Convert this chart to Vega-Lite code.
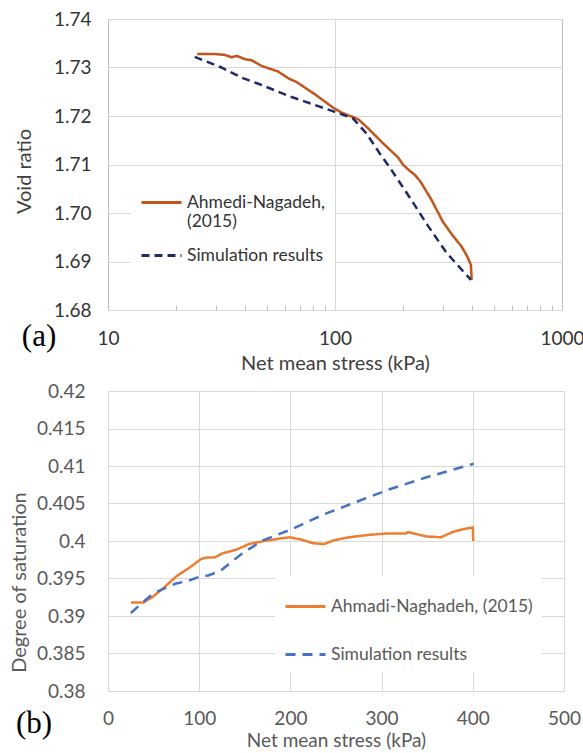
{
  "$schema": "https://vega.github.io/schema/vega-lite/v6.json",
  "background": "white",
  "padding": {"left": 8, "top": 9, "right": 0, "bottom": 0},
  "config": {
    "font": "Lato",
    "view": {"stroke": "#bfbfbf", "strokeWidth": 1},
    "axis": {"domain": false, "ticks": false, "gridColor": "#d9d9d9", "gridWidth": 1, "labelFontSize": 19, "titleFontSize": 20, "titleFontWeight": "normal", "labelFont": "Lato", "titleFont": "Lato", "labelOverlap": false},
    "legend": {"labelFont": "Lato"}
  },
  "columns": 1,
  "align": "none",
  "spacing": 7,
  "resolve": {"scale": {"color": "independent", "strokeDash": "independent"}, "legend": {"color": "independent", "strokeDash": "independent"}},
  "datasets": {
    "a": [
      {"series": "Ahmedi-Nagadeh, (2015)", "stress": 24.7, "ratio": 1.7328},
      {"series": "Ahmedi-Nagadeh, (2015)", "stress": 29.3, "ratio": 1.7328},
      {"series": "Ahmedi-Nagadeh, (2015)", "stress": 32.7, "ratio": 1.7326},
      {"series": "Ahmedi-Nagadeh, (2015)", "stress": 35.1, "ratio": 1.7321},
      {"series": "Ahmedi-Nagadeh, (2015)", "stress": 36.9, "ratio": 1.7324},
      {"series": "Ahmedi-Nagadeh, (2015)", "stress": 40.2, "ratio": 1.7317},
      {"series": "Ahmedi-Nagadeh, (2015)", "stress": 42.9, "ratio": 1.7315},
      {"series": "Ahmedi-Nagadeh, (2015)", "stress": 47.6, "ratio": 1.7303},
      {"series": "Ahmedi-Nagadeh, (2015)", "stress": 56, "ratio": 1.7292},
      {"series": "Ahmedi-Nagadeh, (2015)", "stress": 62.7, "ratio": 1.7277},
      {"series": "Ahmedi-Nagadeh, (2015)", "stress": 67.7, "ratio": 1.727},
      {"series": "Ahmedi-Nagadeh, (2015)", "stress": 82, "ratio": 1.7244},
      {"series": "Ahmedi-Nagadeh, (2015)", "stress": 99, "ratio": 1.7216},
      {"series": "Ahmedi-Nagadeh, (2015)", "stress": 106, "ratio": 1.7208},
      {"series": "Ahmedi-Nagadeh, (2015)", "stress": 112, "ratio": 1.7203},
      {"series": "Ahmedi-Nagadeh, (2015)", "stress": 120, "ratio": 1.7198},
      {"series": "Ahmedi-Nagadeh, (2015)", "stress": 126.8, "ratio": 1.7193},
      {"series": "Ahmedi-Nagadeh, (2015)", "stress": 139.6, "ratio": 1.7175},
      {"series": "Ahmedi-Nagadeh, (2015)", "stress": 147.3, "ratio": 1.7164},
      {"series": "Ahmedi-Nagadeh, (2015)", "stress": 162.6, "ratio": 1.7144},
      {"series": "Ahmedi-Nagadeh, (2015)", "stress": 174.8, "ratio": 1.713},
      {"series": "Ahmedi-Nagadeh, (2015)", "stress": 189.2, "ratio": 1.7115},
      {"series": "Ahmedi-Nagadeh, (2015)", "stress": 200, "ratio": 1.7099},
      {"series": "Ahmedi-Nagadeh, (2015)", "stress": 212, "ratio": 1.7088},
      {"series": "Ahmedi-Nagadeh, (2015)", "stress": 224.4, "ratio": 1.7079},
      {"series": "Ahmedi-Nagadeh, (2015)", "stress": 237.7, "ratio": 1.7065},
      {"series": "Ahmedi-Nagadeh, (2015)", "stress": 266.2, "ratio": 1.7027},
      {"series": "Ahmedi-Nagadeh, (2015)", "stress": 298.5, "ratio": 1.6982},
      {"series": "Ahmedi-Nagadeh, (2015)", "stress": 328.3, "ratio": 1.6955},
      {"series": "Ahmedi-Nagadeh, (2015)", "stress": 360.7, "ratio": 1.6931},
      {"series": "Ahmedi-Nagadeh, (2015)", "stress": 380, "ratio": 1.6913},
      {"series": "Ahmedi-Nagadeh, (2015)", "stress": 396.9, "ratio": 1.6893},
      {"series": "Ahmedi-Nagadeh, (2015)", "stress": 400, "ratio": 1.6862},
      {"series": "Simulation results", "stress": 24.1, "ratio": 1.7322},
      {"series": "Simulation results", "stress": 31.6, "ratio": 1.73},
      {"series": "Simulation results", "stress": 38.8, "ratio": 1.7279},
      {"series": "Simulation results", "stress": 46.3, "ratio": 1.7266},
      {"series": "Simulation results", "stress": 62.7, "ratio": 1.7241},
      {"series": "Simulation results", "stress": 80, "ratio": 1.7224},
      {"series": "Simulation results", "stress": 99.1, "ratio": 1.7209},
      {"series": "Simulation results", "stress": 120, "ratio": 1.7195},
      {"series": "Simulation results", "stress": 137.6, "ratio": 1.7164},
      {"series": "Simulation results", "stress": 157.8, "ratio": 1.7122},
      {"series": "Simulation results", "stress": 175.4, "ratio": 1.7092},
      {"series": "Simulation results", "stress": 212, "ratio": 1.7034},
      {"series": "Simulation results", "stress": 256.4, "ratio": 1.6974},
      {"series": "Simulation results", "stress": 310, "ratio": 1.6918},
      {"series": "Simulation results", "stress": 396.9, "ratio": 1.6862}
    ],
    "b": [
      {"series": "Ahmadi-Naghadeh, (2015)", "stress": 25, "sat": 0.3918},
      {"series": "Ahmadi-Naghadeh, (2015)", "stress": 32, "sat": 0.3918},
      {"series": "Ahmadi-Naghadeh, (2015)", "stress": 39, "sat": 0.3918},
      {"series": "Ahmadi-Naghadeh, (2015)", "stress": 49.5, "sat": 0.3926},
      {"series": "Ahmadi-Naghadeh, (2015)", "stress": 61.6, "sat": 0.3938},
      {"series": "Ahmadi-Naghadeh, (2015)", "stress": 75, "sat": 0.3953},
      {"series": "Ahmadi-Naghadeh, (2015)", "stress": 90, "sat": 0.3965},
      {"series": "Ahmadi-Naghadeh, (2015)", "stress": 102, "sat": 0.3976},
      {"series": "Ahmadi-Naghadeh, (2015)", "stress": 108, "sat": 0.3978},
      {"series": "Ahmadi-Naghadeh, (2015)", "stress": 117, "sat": 0.3978},
      {"series": "Ahmadi-Naghadeh, (2015)", "stress": 126.4, "sat": 0.3984},
      {"series": "Ahmadi-Naghadeh, (2015)", "stress": 140, "sat": 0.3988},
      {"series": "Ahmadi-Naghadeh, (2015)", "stress": 154.8, "sat": 0.3996},
      {"series": "Ahmadi-Naghadeh, (2015)", "stress": 171, "sat": 0.4},
      {"series": "Ahmadi-Naghadeh, (2015)", "stress": 187, "sat": 0.4003},
      {"series": "Ahmadi-Naghadeh, (2015)", "stress": 199, "sat": 0.4005},
      {"series": "Ahmadi-Naghadeh, (2015)", "stress": 211.5, "sat": 0.4002},
      {"series": "Ahmadi-Naghadeh, (2015)", "stress": 225, "sat": 0.3997},
      {"series": "Ahmadi-Naghadeh, (2015)", "stress": 237, "sat": 0.3996},
      {"series": "Ahmadi-Naghadeh, (2015)", "stress": 248, "sat": 0.4001},
      {"series": "Ahmadi-Naghadeh, (2015)", "stress": 264, "sat": 0.4005},
      {"series": "Ahmadi-Naghadeh, (2015)", "stress": 285, "sat": 0.4008},
      {"series": "Ahmadi-Naghadeh, (2015)", "stress": 305, "sat": 0.401},
      {"series": "Ahmadi-Naghadeh, (2015)", "stress": 327, "sat": 0.401},
      {"series": "Ahmadi-Naghadeh, (2015)", "stress": 329, "sat": 0.4012},
      {"series": "Ahmadi-Naghadeh, (2015)", "stress": 349, "sat": 0.4006},
      {"series": "Ahmadi-Naghadeh, (2015)", "stress": 365, "sat": 0.4005},
      {"series": "Ahmadi-Naghadeh, (2015)", "stress": 378, "sat": 0.4012},
      {"series": "Ahmadi-Naghadeh, (2015)", "stress": 390, "sat": 0.4016},
      {"series": "Ahmadi-Naghadeh, (2015)", "stress": 400, "sat": 0.4018},
      {"series": "Ahmadi-Naghadeh, (2015)", "stress": 400.5, "sat": 0.4},
      {"series": "Simulation results", "stress": 25, "sat": 0.3904},
      {"series": "Simulation results", "stress": 49.4, "sat": 0.393},
      {"series": "Simulation results", "stress": 73.7, "sat": 0.3943},
      {"series": "Simulation results", "stress": 88, "sat": 0.3947},
      {"series": "Simulation results", "stress": 102, "sat": 0.3953},
      {"series": "Simulation results", "stress": 110, "sat": 0.3954},
      {"series": "Simulation results", "stress": 123, "sat": 0.396},
      {"series": "Simulation results", "stress": 146.7, "sat": 0.3983},
      {"series": "Simulation results", "stress": 170, "sat": 0.4001},
      {"series": "Simulation results", "stress": 200, "sat": 0.4015},
      {"series": "Simulation results", "stress": 235.8, "sat": 0.4035},
      {"series": "Simulation results", "stress": 276.3, "sat": 0.4054},
      {"series": "Simulation results", "stress": 308.8, "sat": 0.4069},
      {"series": "Simulation results", "stress": 349.3, "sat": 0.4085},
      {"series": "Simulation results", "stress": 401, "sat": 0.4103}
    ]
  },
  "concat": [
    {
      "width": 454,
      "height": 291,
      "layer": [
        {
          "data": {"name": "a"},
          "mark": {"type": "line", "strokeWidth": 2.5},
          "encoding": {
            "x": {
              "field": "stress", "type": "quantitative",
              "scale": {"type": "log", "domain": [10, 1000]},
              "axis": {
                "title": "Net mean stress (kPa)",
                "values": [10, 20, 30, 40, 50, 60, 70, 80, 90, 100, 200, 300, 400, 500, 600, 700, 800, 900, 1000],
                "tickCount": 40,
                "labelExpr": "datum.value == 10 || datum.value == 100 || datum.value == 1000 ? format(datum.value, 'd') : ''",
                "ticks": true, "tickSize": -5, "tickColor": "#bfbfbf",
                "tickOpacity": {"condition": {"test": "datum.value == 10 || datum.value == 100 || datum.value == 1000", "value": 0}, "value": 1},
                "gridOpacity": {"condition": {"test": "datum.value == 100", "value": 1}, "value": 0},
                "labelPadding": 24, "labelColor": "#333333", "titleColor": "#404040", "titlePadding": 5,
                "labelFlush": false
              }
            },
            "y": {
              "field": "ratio", "type": "quantitative",
              "scale": {"domain": [1.68, 1.74], "zero": false},
              "axis": {
                "title": "Void ratio",
                "values": [1.68, 1.69, 1.7, 1.71, 1.72, 1.73, 1.74],
                "tickCount": 20,
                "format": ".2f", "labelPadding": 17, "labelColor": "#333333", "titleColor": "#404040",
                "titlePadding": 19, "titleY": 152
              }
            },
            "color": {
              "field": "series", "type": "nominal",
              "scale": {"domain": ["Ahmedi-Nagadeh, (2015)", "Simulation results"], "range": ["#c0561b", "#1f2a66"]},
              "legend": {
                "orient": "none", "legendX": 23, "legendY": 153, "title": null,
                "fillColor": "white", "padding": 9, "symbolType": "stroke", "symbolSize": 1600,
                "symbolStrokeWidth": 3, "labelFontSize": 17.5, "labelColor": "#333333", "rowPadding": 3,
                "labelOffset": 4, "labelLimit": 400,
                "labelExpr": "datum.label == 'Ahmedi-Nagadeh, (2015)' ? ['Ahmedi-Nagadeh,', '(2015)'] : datum.label"
              }
            },
            "strokeDash": {
              "field": "series", "type": "nominal",
              "scale": {"domain": ["Ahmedi-Nagadeh, (2015)", "Simulation results"], "range": [[1, 0], [8, 5]]},
              "legend": {
                "orient": "none", "legendX": 23, "legendY": 153, "title": null,
                "fillColor": "white", "padding": 9, "symbolType": "stroke", "symbolSize": 1600,
                "symbolStrokeWidth": 3, "labelFontSize": 17.5, "labelColor": "#333333", "rowPadding": 3,
                "labelOffset": 4, "labelLimit": 400,
                "labelExpr": "datum.label == 'Ahmedi-Nagadeh, (2015)' ? ['Ahmedi-Nagadeh,', '(2015)'] : datum.label"
              }
            }
          }
        },
        {
          "data": {"values": [{"tag": "(a)"}]},
          "mark": {"type": "text", "font": "Liberation Serif", "fontSize": 31, "color": "black", "align": "center", "baseline": "middle"},
          "encoding": {
            "x": {"datum": 4.97, "type": "quantitative"},
            "y": {"datum": 1.6744, "type": "quantitative"},
            "text": {"field": "tag", "type": "nominal"}
          }
        }
      ]
    },
    {
      "width": 456,
      "height": 300,
      "layer": [
        {
          "data": {"name": "b"},
          "mark": {"type": "line", "strokeWidth": 2.5},
          "encoding": {
            "x": {
              "field": "stress", "type": "quantitative",
              "scale": {"domain": [0, 500]},
              "axis": {
                "title": "Net mean stress (kPa)",
                "values": [0, 100, 200, 300, 400, 500],
                "tickCount": 20,
                "labelPadding": 18, "labelColor": "#595959", "titleColor": "#595959", "titlePadding": 3,
                "titleFontSize": 19,
                "labelFlush": false
              }
            },
            "y": {
              "field": "sat", "type": "quantitative",
              "scale": {"domain": [0.38, 0.42], "zero": false},
              "axis": {
                "title": "Degree of saturation",
                "values": [0.38, 0.385, 0.39, 0.395, 0.4, 0.405, 0.41, 0.415, 0.42],
                "tickCount": 30,
                "format": ".3~f", "labelPadding": 23, "labelColor": "#595959", "titleColor": "#595959",
                "titlePadding": 7, "titleY": 191
              }
            },
            "color": {
              "field": "series", "type": "nominal",
              "scale": {"domain": ["Ahmadi-Naghadeh, (2015)", "Simulation results"], "range": ["#ed7d31", "#4472c4"]},
              "legend": {
                "orient": "none", "legendX": 167, "legendY": 185, "title": null,
                "fillColor": "white", "padding": 9, "symbolType": "stroke", "symbolSize": 1600,
                "symbolStrokeWidth": 3, "labelFontSize": 17.5, "labelColor": "#595959", "rowPadding": 18,
                "labelOffset": 4, "labelLimit": 400
              }
            },
            "strokeDash": {
              "field": "series", "type": "nominal",
              "scale": {"domain": ["Ahmadi-Naghadeh, (2015)", "Simulation results"], "range": [[1, 0], [10, 7]]},
              "legend": {
                "orient": "none", "legendX": 167, "legendY": 185, "title": null,
                "fillColor": "white", "padding": 9, "symbolType": "stroke", "symbolSize": 1600,
                "symbolStrokeWidth": 3, "labelFontSize": 17.5, "labelColor": "#595959", "rowPadding": 18,
                "labelOffset": 4, "labelLimit": 400
              }
            }
          }
        },
        {
          "data": {"values": [{"tag": "(b)"}]},
          "mark": {"type": "text", "font": "Liberation Serif", "fontSize": 31, "color": "black", "align": "center", "baseline": "middle"},
          "encoding": {
            "x": {"datum": -81, "type": "quantitative"},
            "y": {"datum": 0.3756, "type": "quantitative"},
            "text": {"field": "tag", "type": "nominal"}
          }
        }
      ]
    }
  ]
}
